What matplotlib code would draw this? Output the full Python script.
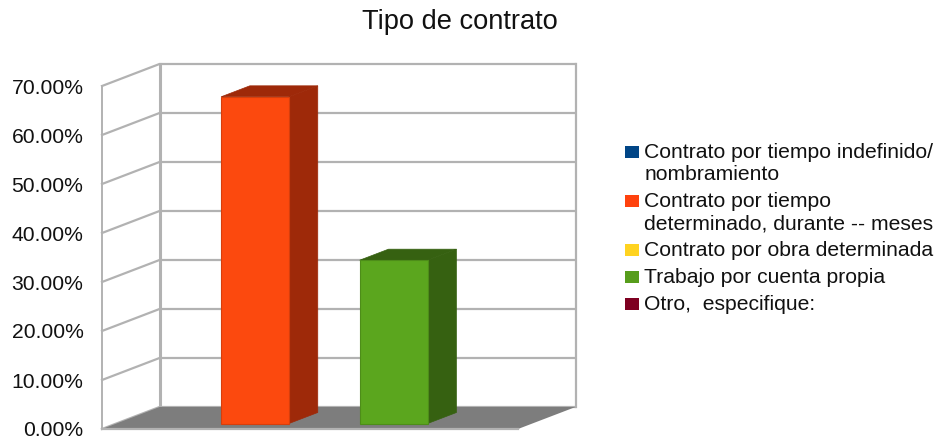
#!/usr/bin/env python3
import matplotlib.pyplot as plt
from matplotlib.patches import Rectangle
from matplotlib.colors import to_rgb

plt.rcParams['font.family'] = ['Liberation Sans', 'DejaVu Sans']

title = "Tipo de contrato"
series_names = ["Contrato por tiempo indefinido/\nnombramiento",
	"Contrato por tiempo\ndeterminado, durante -- meses",
	"Contrato por obra determinada",
	"Trabajo por cuenta propia",
	"Otro,  especifique:"]
series_values = [0.0, 66.67, 0.0, 33.33, 0.0]
series_colors = ["#004586", "#ff420e", "#ffd320", "#579d1c", "#7e0021"]
bar_faces = ["#004586", "#fc490e", "#ffd320", "#5ba61e", "#7e0021"]
y_ticks = [0, 10, 20, 30, 40, 50, 60, 70]

W, H = 936, 438
fig = plt.figure(figsize=(W/100, H/100), dpi=100)
ax = fig.add_axes([102/W, (H-429)/H, 416/W, 343/H])
ax.set_xlim(-1, 5)
ax.set_ylim(0, 70)

# fake 3d: depth of the box in data units
dx = 57.5 / (416/6)
dy = 22 / (343/70)
grid = "#b2b2b2"

# side wall and back wall
for t in y_ticks:
	ax.plot([-1, -1+dx, 5+dx], [t, t+dy, t+dy], c=grid, lw=1.6, clip_on=False, zorder=1,
		solid_joinstyle="miter")
ax.plot([-1, -1], [0, 70], c=grid, lw=1.4, clip_on=False, zorder=1)
ax.plot([-1+dx, -1+dx], [dy, 70+dy], c=grid, lw=2.2, clip_on=False, zorder=1)
ax.plot([5+dx, 5+dx], [dy, 70+dy], c=grid, lw=1.6, clip_on=False, zorder=1)

# floor
ax.fill([-1, -1+dx, 5+dx, 5], [0, dy, dy, 0], c="#7d7d7d", lw=0, clip_on=False, zorder=2)
ax.plot([-1, 5], [0, 0], c=grid, lw=1.6, clip_on=False, zorder=2)

# bars, sitting in the middle of the depth
width = 0.98
f0, f1 = 0.25, 0.75
for i, v in enumerate(series_values):
	if v == 0:
		continue
	x0 = i - width/2 + f0*dx
	x1 = x0 + width
	y0 = f0*dy
	d = f1 - f0
	dark = tuple(c*0.62 for c in to_rgb(series_colors[i]))
	edge = tuple(c*0.85 for c in to_rgb(bar_faces[i]))
	ax.fill([x1, x1+d*dx, x1+d*dx, x1], [y0, y0+d*dy, y0+d*dy+v, y0+v], color=dark, lw=0.5,
		clip_on=False, zorder=3)
	ax.fill([x0, x1, x1+d*dx, x0+d*dx], [y0+v, y0+v, y0+v+d*dy, y0+v+d*dy], color=dark, lw=0.5,
		clip_on=False, zorder=3)
	ax.bar(i + f0*dx, v, width=width, bottom=y0, color=bar_faces[i], edgecolor=edge, lw=0.8,
		clip_on=False, zorder=4)

for s in ax.spines.values():
	s.set_visible(False)
ax.patch.set_visible(False)
ax.set_xticks([])
ax.set_yticks(y_ticks)
ax.set_yticklabels(["%.2f%%" % t for t in y_ticks], fontsize=15.2, color="#111111")
ax.tick_params(axis="y", length=0, pad=18.5 * 0.72)

fig.text(459.5/W, 1 - 22/H, title, fontsize=19.6, ha="center", va="center", color="#111111")

# legend, drawn by hand so the swatch lines up with the first text line
legend_y = [152, 201, 250, 277, 304]
for name, col, y in zip(series_names, series_colors, legend_y):
	fig.add_artist(Rectangle((625/W, 1-(y+6)/H), 14/W, 12/H, transform=fig.transFigure,
		facecolor=col, edgecolor="none"))
	fig.text(644.5/W, 1-(y-9)/H, name, fontsize=15.2, va="top", ha="left", color="#111111",
		linespacing=1.22)

fig.savefig("out.png", dpi=100)
